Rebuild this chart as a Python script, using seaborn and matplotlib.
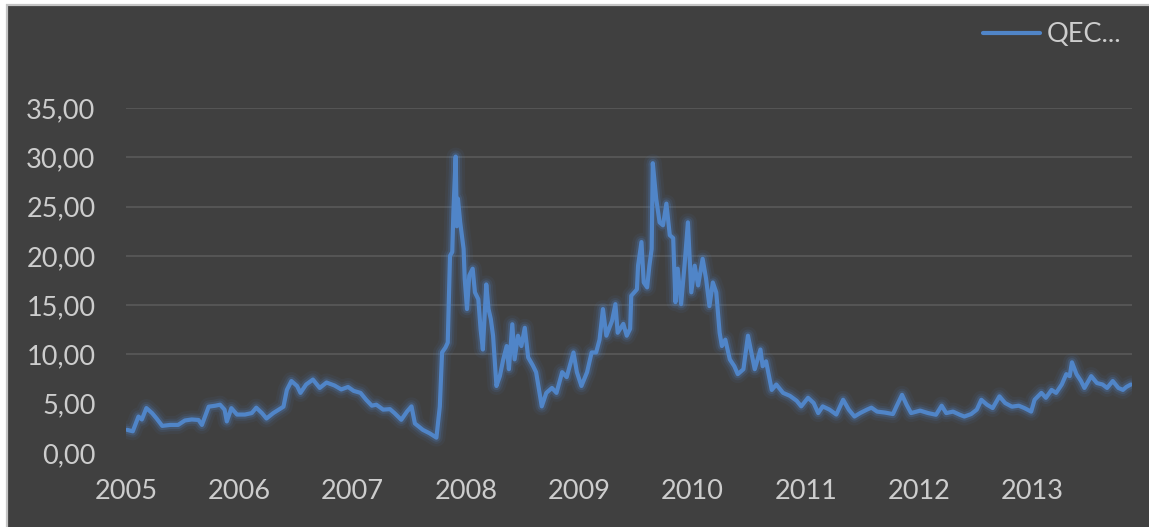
import pandas as pd
import seaborn as sns
import matplotlib.pyplot as plt
from matplotlib.patches import Rectangle
from matplotlib.ticker import FuncFormatter

# series (decimal year, value)
years = [
    2005.01, 2005.06, 2005.11, 2005.14, 2005.18, 2005.23, 2005.27, 2005.32, 2005.39, 2005.46,
    2005.52, 2005.58, 2005.64, 2005.67, 2005.73, 2005.79, 2005.83, 2005.87, 2005.89, 2005.93,
    2005.98, 2006.05, 2006.11, 2006.15, 2006.20, 2006.24, 2006.30, 2006.39, 2006.42, 2006.46,
    2006.51, 2006.54, 2006.59, 2006.65, 2006.71, 2006.77, 2006.84, 2006.90, 2006.96, 2007.01,
    2007.07, 2007.12, 2007.17, 2007.21, 2007.27, 2007.33, 2007.37, 2007.43, 2007.48, 2007.52,
    2007.55, 2007.62, 2007.68, 2007.74, 2007.77, 2007.79, 2007.82, 2007.84, 2007.86, 2007.88,
    2007.89, 2007.91, 2007.92, 2007.93, 2007.95, 2007.98, 2007.99, 2008.01, 2008.03, 2008.06,
    2008.08, 2008.11, 2008.13, 2008.15, 2008.18, 2008.20, 2008.22, 2008.24, 2008.27, 2008.30,
    2008.33, 2008.36, 2008.38, 2008.41, 2008.43, 2008.46, 2008.49, 2008.52, 2008.55, 2008.59,
    2008.62, 2008.67, 2008.71, 2008.76, 2008.80, 2008.85, 2008.89, 2008.95, 2008.98, 2009.02,
    2009.07, 2009.11, 2009.15, 2009.18, 2009.21, 2009.24, 2009.29, 2009.32, 2009.34, 2009.39,
    2009.42, 2009.45, 2009.46, 2009.51, 2009.52, 2009.55, 2009.57, 2009.60, 2009.62, 2009.64,
    2009.65, 2009.68, 2009.71, 2009.74, 2009.77, 2009.80, 2009.83, 2009.85, 2009.87, 2009.90,
    2009.93, 2009.96, 2009.99, 2010.02, 2010.05, 2010.09, 2010.12, 2010.15, 2010.18, 2010.21,
    2010.24, 2010.26, 2010.29, 2010.33, 2010.37, 2010.40, 2010.45, 2010.49, 2010.52, 2010.55,
    2010.60, 2010.62, 2010.65, 2010.70, 2010.74, 2010.80, 2010.86, 2010.92, 2010.96, 2011.02,
    2011.07, 2011.11, 2011.15, 2011.21, 2011.27, 2011.33, 2011.38, 2011.43, 2011.48, 2011.54,
    2011.58, 2011.63, 2011.70, 2011.77, 2011.80, 2011.85, 2011.89, 2011.93, 2012.01, 2012.08,
    2012.15, 2012.20, 2012.24, 2012.30, 2012.36, 2012.40, 2012.46, 2012.51, 2012.55, 2012.60,
    2012.65, 2012.71, 2012.76, 2012.82, 2012.88, 2012.93, 2012.99, 2013.02, 2013.08, 2013.12,
    2013.17, 2013.21, 2013.26, 2013.30, 2013.33, 2013.35, 2013.39, 2013.43, 2013.46, 2013.52,
    2013.57, 2013.62, 2013.66, 2013.71, 2013.76, 2013.80, 2013.83, 2013.87,
]
qec = [
    2.35, 2.2, 3.7, 3.4, 4.56, 4.05, 3.5, 2.75, 2.85, 2.85,
    3.3, 3.4, 3.35, 2.85, 4.7, 4.8, 4.9, 4.4, 3.2, 4.55,
    3.9, 3.9, 4.05, 4.6, 4.05, 3.5, 4.05, 4.7, 6.4, 7.3,
    6.8, 6.1, 6.95, 7.45, 6.6, 7.15, 6.85, 6.45, 6.7, 6.3,
    6.1, 5.4, 4.8, 4.9, 4.4, 4.45, 4.05, 3.37, 4.2, 4.73,
    3.0, 2.35, 2.0, 1.56, 4.7, 10.2, 10.7, 11.2, 20.0, 20.4,
    24.5, 30.07, 23.0, 25.8, 23.4, 20.7, 17.65, 14.6, 18.0, 18.7,
    16.3, 15.6, 12.55, 10.5, 17.1, 14.6, 13.6, 11.9, 6.8, 7.8,
    9.5, 10.85, 8.5, 13.06, 9.5, 11.9, 10.85, 12.7, 9.7, 8.9,
    8.2, 4.73, 6.1, 6.6, 6.1, 8.2, 7.7, 10.2, 8.2, 6.8,
    8.2, 10.2, 10.2, 11.5, 14.6, 11.9, 13.4, 15.1, 12.2, 13.1,
    11.9, 12.6, 15.95, 16.6, 19.0, 21.4, 17.3, 16.8, 19.0, 20.7,
    29.4, 25.8, 23.4, 23.1, 25.3, 22.1, 21.8, 15.3, 18.7, 15.1,
    19.0, 23.4, 16.3, 19.0, 17.0, 19.7, 17.7, 14.9, 17.3, 16.3,
    12.2, 10.85, 11.5, 9.5, 8.8, 8.0, 8.5, 11.9, 10.2, 8.5,
    10.5, 8.8, 9.3, 6.4, 6.95, 6.1, 5.8, 5.3, 4.73, 5.6,
    5.07, 4.05, 4.73, 4.4, 3.9, 5.4, 4.4, 3.7, 4.05, 4.4,
    4.6, 4.2, 4.1, 3.95, 4.7, 5.9, 4.9, 4.05, 4.3, 4.05,
    3.88, 4.8, 4.05, 4.2, 3.88, 3.7, 3.95, 4.4, 5.4, 4.9,
    4.56, 5.75, 5.07, 4.7, 4.8, 4.56, 4.2, 5.4, 6.1, 5.6,
    6.4, 6.1, 6.95, 8.0, 7.8, 9.2, 8.0, 7.3, 6.6, 7.8,
    7.1, 6.95, 6.6, 7.3, 6.6, 6.4, 6.7, 6.95,
]
year_ticks = [2005, 2006, 2007, 2008, 2009, 2010, 2011, 2012, 2013]
value_ticks = [0, 5, 10, 15, 20, 25, 30, 35]
series_name = "QEC..."

df = pd.DataFrame({"year": years, "value": qec})

bg = "#404040"
txt = "#cdcdcd"
blue = "#5085c8"

sns.set_theme(style="dark")
plt.rcParams['font.family'] = ['Lato', 'DejaVu Sans']

fig = plt.figure(figsize=(11.49, 5.27), dpi=100, facecolor="white")
frame = Rectangle((7 / 1149, -0.01), 1.01, 1 - 5 / 527 + 0.01,
                  transform=fig.transFigure, facecolor=bg,
                  edgecolor="#c4c4c4", linewidth=1.6, zorder=-10)
fig.patches.append(frame)

ax = fig.add_axes([126 / 1149, 74 / 527, 1006 / 1149, 345 / 527])
ax.set_facecolor("none")

# gridlines (the lowest two are not visible in the original)
ax.hlines([v for v in value_ticks if v >= 10], 2005, 2013.88,
          color="#5a5a5a", linewidth=1.2, zorder=1)

# soft glow under the line
for lw, a in [(13, 0.07), (9, 0.12), (6, 0.22)]:
    sns.lineplot(data=df, x="year", y="value", ax=ax, color=blue,
                 linewidth=lw, alpha=a, zorder=2, legend=False)
sns.lineplot(data=df, x="year", y="value", ax=ax, color=blue,
             linewidth=3.0, zorder=3, label=series_name)

ax.set_xlim(2005, 2013.88)
ax.set_ylim(0, 35)
ax.set_xticks(year_ticks)
ax.set_yticks(value_ticks)
ax.yaxis.set_major_formatter(FuncFormatter(lambda v, p: f"{v:.2f}".replace(".", ",")))
ax.tick_params(axis="both", length=0, labelsize=19.5, labelcolor=txt)
ax.tick_params(axis="y", pad=22)
ax.tick_params(axis="x", pad=19)
ax.set_xlabel("")
ax.set_ylabel("")
ax.grid(False)
for s in ax.spines.values():
    s.set_visible(False)

handles, labels = ax.get_legend_handles_labels()
ax.get_legend().remove()
leg = fig.legend(handles, labels, loc="center right",
                 bbox_to_anchor=(1121 / 1149, 1 - 35 / 527),
                 frameon=False, fontsize=19.5, handlelength=2.1,
                 handletextpad=0.25, borderpad=0, borderaxespad=0)
for t in leg.get_texts():
    t.set_color(txt)
for l in leg.get_lines():
    l.set_linewidth(3)

fig.savefig("out.png", dpi=100, facecolor=fig.get_facecolor())
